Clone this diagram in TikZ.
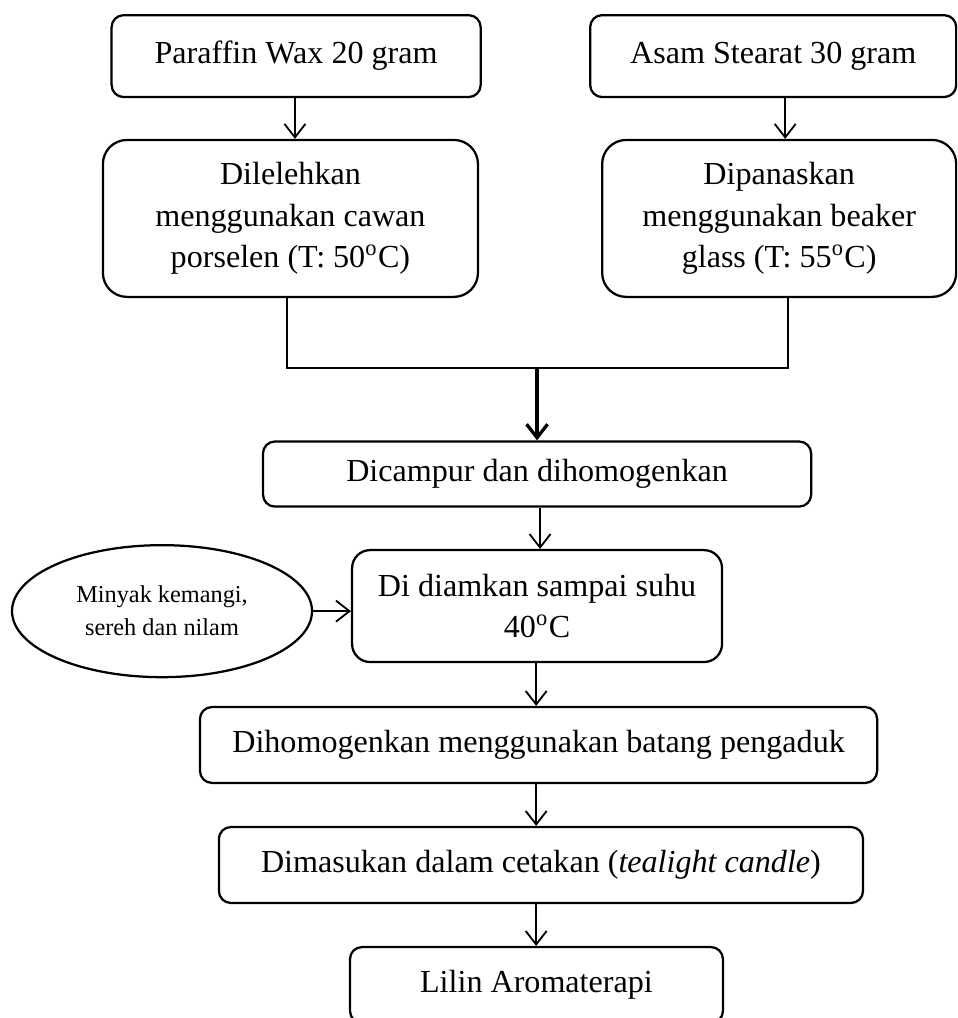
\documentclass[tikz,border=0pt]{standalone}
\usepackage{fontspec}
\setmainfont{Liberation Serif}
\usetikzlibrary{arrows.meta,calc,shapes.geometric}

\begin{document}
\begin{tikzpicture}[x=1pt,y=-1pt,
        proses/.style={draw,line width=0.75pt,rounded corners=4pt,inner sep=0pt,align=center,
            font=\fontsize{10.7}{13.8}\selectfont},
        panah/.style={-{Straight Barb[length=4.5pt,width=7pt]},line width=0.6pt}]
        \useasboundingbox (0,0) rectangle (319,339.3);
        \clip (0,0) rectangle (319,339.3);
        % bahan awal
        \node[proses,minimum width=123pt,minimum height=27.3pt] (paraffin) at (98.7,18.7) {Paraffin Wax 20 gram};
        \node[proses,minimum width=122pt,minimum height=27.3pt] (asam) at (257.7,18.7) {Asam Stearat 30 gram};
        \node[proses,rounded corners=8pt,minimum width=125pt,minimum height=52.3pt] (dilelehkan) at (96.8,72.8)
            {Dilelehkan\\menggunakan cawan\\porselen (T: 50\textsuperscript{o}C)};
        \node[proses,rounded corners=8pt,minimum width=118pt,minimum height=52.3pt] (dipanaskan) at (259.7,72.8)
            {Dipanaskan\\menggunakan beaker\\glass (T: 55\textsuperscript{o}C)};
        % proses
        \node[proses,minimum width=182.7pt,minimum height=21.7pt] (campur) at (179,158) {Dicampur dan dihomogenkan};
        \node[proses,rounded corners=6pt,minimum width=123.3pt,minimum height=37.3pt] (diamkan) at (179,202)
            {Di diamkan sampai suhu\\40\textsuperscript{o}C};
        \node[draw,ellipse,line width=0.75pt,minimum width=100pt,minimum height=44pt,inner sep=0pt,align=center,
            font=\fontsize{8.1}{11}\selectfont] (minyak) at (54,203.7) {Minyak kemangi,\\sereh dan nilam};
        \node[proses,minimum width=225.7pt,minimum height=25.3pt] (homogen) at (179.5,248.3)
            {Dihomogenkan menggunakan batang pengaduk};
        \node[proses,minimum width=214.7pt,minimum height=25.3pt] (cetak) at (180.3,288.3)
            {Dimasukan dalam cetakan (\textit{tealight candle})};
        \node[proses,minimum width=124.3pt,minimum height=25.3pt] (lilin) at (178.8,328.3) {Lilin Aromaterapi};
        \coordinate (gabung) at (179,122.7);
        % panah
        \draw[panah] (paraffin.south -| 98.3,0) -- (dilelehkan.north -| 98.3,0);
        \draw[panah] (asam.south -| 261.7,0) -- (dipanaskan.north -| 261.7,0);
        \draw[line width=0.75pt] (dilelehkan.south -| 95.7,0) |- (gabung) -| (dipanaskan.south -| 262.7,0);
        \draw[panah,line width=1.1pt] (gabung) -- (campur.north);
        \draw[panah] (campur.south -| 180,0) -- (diamkan.north -| 180,0);
        \draw[panah] (minyak.east) -- (minyak.east -| diamkan.west);
        \draw[panah] (diamkan.south -| 178.7,0) -- (homogen.north -| 178.7,0);
        \draw[panah] (homogen.south -| 178.7,0) -- (cetak.north -| 178.7,0);
        \draw[panah] (cetak.south -| 178.7,0) -- (lilin.north -| 178.7,0);
\end{tikzpicture}
\end{document}
